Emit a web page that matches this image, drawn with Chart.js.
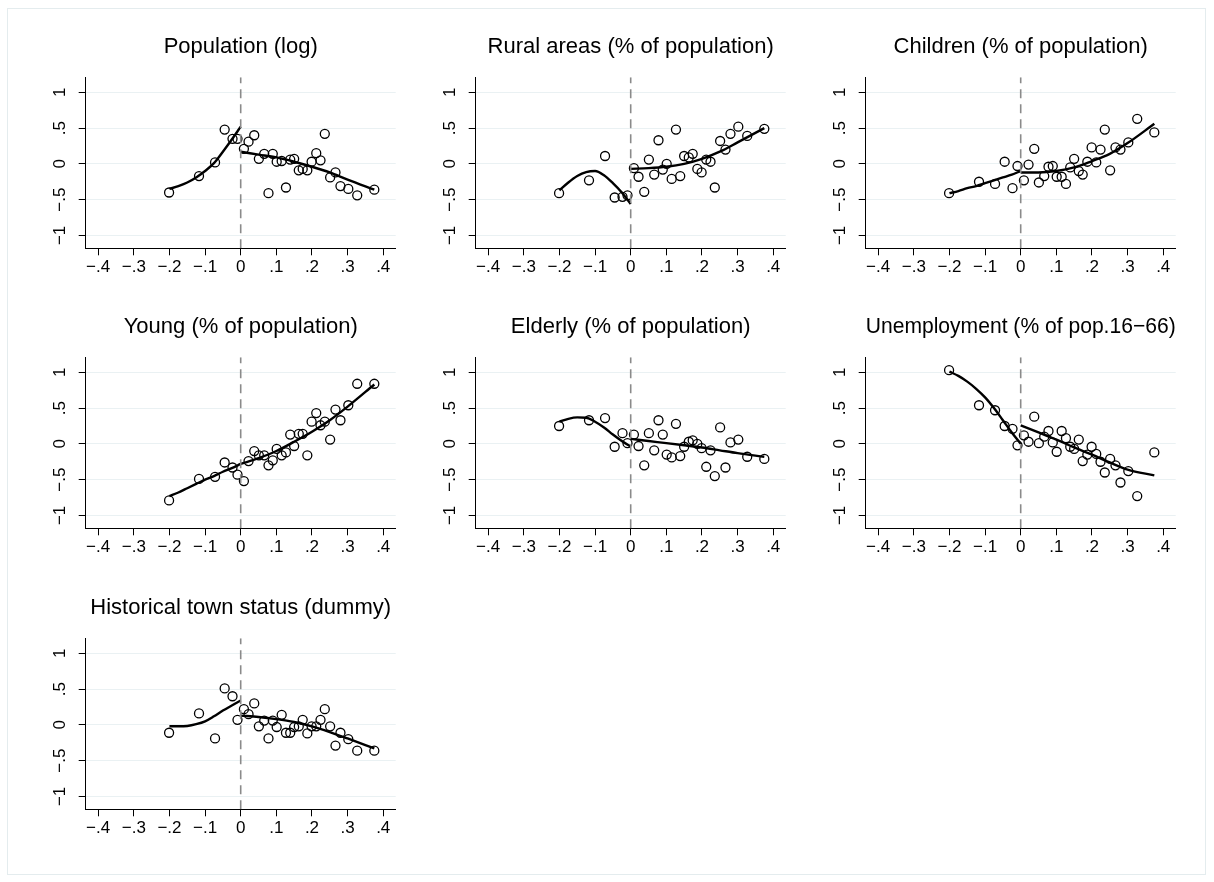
<!DOCTYPE html>
<html>
<head>
<meta charset="utf-8">
<script src="https://cdn.jsdelivr.net/npm/chart.js@4.4.0/dist/chart.umd.min.js"></script>
<style>
  body { margin: 0; background: #fff; }
  #frame { position: absolute; left: 7px; top: 8px; width: 1199px; height: 867px; border: 1px solid #e4ecee; box-sizing: border-box; }
  canvas { position: absolute; }
</style>
</head>
<body>
<div id="frame"></div>
<script>
// bin positions on the running variable (same for every panel)
const binX = [-0.201, -0.117, -0.072, -0.045, -0.023, -0.009, 0.009, 0.022, 0.038, 0.051, 0.066, 0.078, 0.090, 0.101, 0.115, 0.127, 0.139, 0.150, 0.163, 0.174, 0.187, 0.199, 0.212, 0.224, 0.236, 0.251, 0.266, 0.280, 0.302, 0.327, 0.375]

const popY = [-0.40, -0.17, 0.02, 0.48, 0.35, 0.35, 0.21, 0.31, 0.40, 0.07, 0.14, -0.41, 0.14, 0.03, 0.04, -0.33, 0.06, 0.07, -0.09, -0.07, -0.09, 0.03, 0.15, 0.05, 0.42, -0.19, -0.12, -0.31, -0.35, -0.44, -0.36]
const ruralY = [-0.41, -0.23, 0.11, -0.47, -0.46, -0.44, -0.06, -0.18, -0.39, 0.06, -0.15, 0.33, -0.08, 0.00, -0.21, 0.48, -0.17, 0.11, 0.09, 0.14, -0.07, -0.12, 0.06, 0.03, -0.33, 0.32, 0.20, 0.42, 0.52, 0.39, 0.49]
const childY = [-0.41, -0.25, -0.28, 0.03, -0.34, -0.03, -0.23, -0.01, 0.21, -0.26, -0.17, -0.04, -0.03, -0.18, -0.18, -0.28, -0.05, 0.07, -0.10, -0.15, 0.03, 0.23, 0.02, 0.20, 0.48, -0.09, 0.23, 0.20, 0.30, 0.63, 0.44]
const youngY = [-0.79, -0.49, -0.46, -0.26, -0.33, -0.43, -0.52, -0.24, -0.10, -0.16, -0.16, -0.30, -0.23, -0.07, -0.16, -0.12, 0.13, -0.03, 0.14, 0.14, -0.16, 0.31, 0.43, 0.26, 0.31, 0.06, 0.48, 0.33, 0.54, 0.84, 0.84]
const elderY = [0.25, 0.33, 0.36, -0.04, 0.15, 0.01, 0.13, -0.03, -0.30, 0.15, -0.09, 0.33, 0.13, -0.15, -0.19, 0.28, -0.17, -0.04, 0.03, 0.05, 0.00, -0.06, -0.32, -0.09, -0.45, 0.23, -0.33, 0.02, 0.06, -0.18, -0.21]
const unempY = [1.03, 0.54, 0.47, 0.25, 0.21, -0.02, 0.12, 0.03, 0.38, 0.01, 0.10, 0.18, 0.02, -0.11, 0.18, 0.08, -0.04, -0.07, 0.06, -0.24, -0.15, -0.04, -0.14, -0.25, -0.40, -0.21, -0.30, -0.54, -0.38, -0.73, -0.12]
const histY = [-0.11, 0.16, -0.19, 0.51, 0.40, 0.07, 0.22, 0.15, 0.30, -0.02, 0.06, -0.19, 0.06, -0.03, 0.14, -0.11, -0.11, -0.03, -0.02, 0.07, -0.12, -0.02, -0.02, 0.07, 0.22, -0.02, -0.29, -0.11, -0.20, -0.36, -0.36]

const leftFitX = [-0.2, -0.175, -0.15, -0.125, -0.1, -0.075, -0.05, -0.025, 0]
const rightFitX = [0, 0.05, 0.1, 0.15, 0.2, 0.25, 0.3, 0.375]

const popLeft = [-0.35, -0.31, -0.26, -0.19, -0.10, 0.01, 0.17, 0.34, 0.52]
const popRight = [0.17, 0.13, 0.09, 0.03, -0.04, -0.12, -0.22, -0.36]
const ruralLeft = [-0.37, -0.26, -0.17, -0.115, -0.10, -0.16, -0.27, -0.40, -0.56]
const ruralRight = [-0.07, -0.06, -0.04, 0.00, 0.07, 0.17, 0.30, 0.50]
const childLeft = [-0.41, -0.38, -0.34, -0.31, -0.27, -0.23, -0.19, -0.15, -0.10]
const childRight = [-0.12, -0.12, -0.10, -0.05, 0.04, 0.14, 0.29, 0.56]
const youngLeft = [-0.73, -0.68, -0.62, -0.56, -0.50, -0.45, -0.39, -0.34, -0.28]
const youngRight = [-0.28, -0.20, -0.10, 0.03, 0.17, 0.33, 0.52, 0.83]
const elderLeft = [0.31, 0.35, 0.37, 0.365, 0.31, 0.23, 0.13, 0.04, -0.04]
const elderRight = [0.07, 0.04, 0.01, -0.02, -0.05, -0.09, -0.13, -0.18]
const unempLeft = [1.01, 0.95, 0.87, 0.77, 0.65, 0.50, 0.33, 0.16, 0.00]
const unempRight = [0.26, 0.16, 0.06, -0.05, -0.15, -0.26, -0.36, -0.44]
const histLeft = [-0.02, -0.02, -0.015, 0.01, 0.05, 0.12, 0.20, 0.27, 0.34]
const histRight = [0.13, 0.11, 0.08, 0.04, -0.02, -0.10, -0.19, -0.33]

const titles = ['Population (log)', 'Rural areas (% of population)', 'Children (% of population)', 'Young (% of population)', 'Elderly (% of population)', 'Unemployment (% of pop.16\u221266)', 'Historical town status (dummy)']

const xTicks = [-0.4, -0.3, -0.2, -0.1, 0, 0.1, 0.2, 0.3, 0.4]
const xTickLabels = ['\u2212.4', '\u2212.3', '\u2212.2', '\u2212.1', '0', '.1', '.2', '.3', '.4']
const yTicks = [-1, -0.5, 0, 0.5, 1]
const yTickLabels = ['\u22121', '\u2212.5', '0', '.5', '1']

const cutoffX = 0
const xMin = -0.435, xMax = 0.435
const yMin = -1.18, yMax = 1.21

const panels = [
  { y: popY, left: popLeft, right: popRight },
  { y: ruralY, left: ruralLeft, right: ruralRight },
  { y: childY, left: childLeft, right: childRight },
  { y: youngY, left: youngLeft, right: youngRight },
  { y: elderY, left: elderLeft, right: elderRight },
  { y: unempY, left: unempLeft, right: unempRight },
  { y: histY, left: histLeft, right: histRight },
]

Chart.defaults.font.family = "'Liberation Sans', Arial, sans-serif"
Chart.defaults.color = '#000'

const colLefts = [20, 410, 800]
const rowTops = [25, 305, 586]

const toXY = (xs, ys) => xs.map((x, k) => ({ x, y: ys[k] }))

panels.forEach((p, i) => {
  const canvas = document.createElement('canvas')
  canvas.width = 385
  canvas.height = 265
  canvas.style.left = colLefts[i % 3] + 'px'
  canvas.style.top = rowTops[Math.floor(i / 3)] + 'px'
  document.body.appendChild(canvas)

  const fitLine = { showLine: true, borderColor: '#000', borderWidth: 2.4, pointRadius: 0, cubicInterpolationMode: 'monotone', fill: false }

  new Chart(canvas, {
    type: 'scatter',
    data: {
      datasets: [
        { data: toXY([cutoffX, cutoffX], [yMin, yMax]), showLine: true, borderColor: '#8a8a8a', borderWidth: 1.6, borderDash: [9, 6], pointRadius: 0 },
        { data: toXY(binX, p.y), pointStyle: 'circle', pointRadius: 4.5, pointBorderWidth: 1.3, pointBorderColor: '#000', pointBackgroundColor: 'rgba(0,0,0,0)' },
        Object.assign({ data: toXY(leftFitX, p.left) }, fitLine),
        Object.assign({ data: toXY(rightFitX, p.right) }, fitLine),
      ],
    },
    options: {
      responsive: false,
      animation: false,
      devicePixelRatio: 1,
      layout: { padding: { left: 0, right: 9.3, top: 0, bottom: 0 } },
      plugins: {
        legend: { display: false },
        tooltip: { enabled: false },
        title: {
          display: true,
          fullSize: false,
          text: titles[i],
          color: '#000',
          font: { size: 22, weight: 'normal' },
          padding: { top: 8.8, bottom: 17.1 },
        },
      },
      scales: {
        x: {
          type: 'linear',
          min: xMin,
          max: xMax,
          afterBuildTicks: (s) => { s.ticks = xTicks.map((v) => ({ value: v })) },
          afterFit: (s) => { s.height = 41.7 },
          ticks: { autoSkip: false, maxRotation: 0, padding: 2, font: { size: 17 }, color: '#000', callback: (v, k) => xTickLabels[k] },
          grid: { drawOnChartArea: false, tickLength: 7, tickColor: '#000' },
          border: { color: '#000', width: 1 },
        },
        y: {
          min: yMin,
          max: yMax,
          afterBuildTicks: (s) => { s.ticks = yTicks.map((v) => ({ value: v })) },
          afterFit: (s) => { s.width = 65.7 },
          ticks: { minRotation: 90, maxRotation: 90, crossAlign: 'center', padding: 6.7, font: { size: 17 }, color: '#000', callback: (v, k) => yTickLabels[k] },
          grid: { color: '#eaf1f3', tickColor: '#000', tickLength: 7 },
          border: { color: '#000', width: 1 },
        },
      },
    },
  })
})
</script>
</body>
</html>
